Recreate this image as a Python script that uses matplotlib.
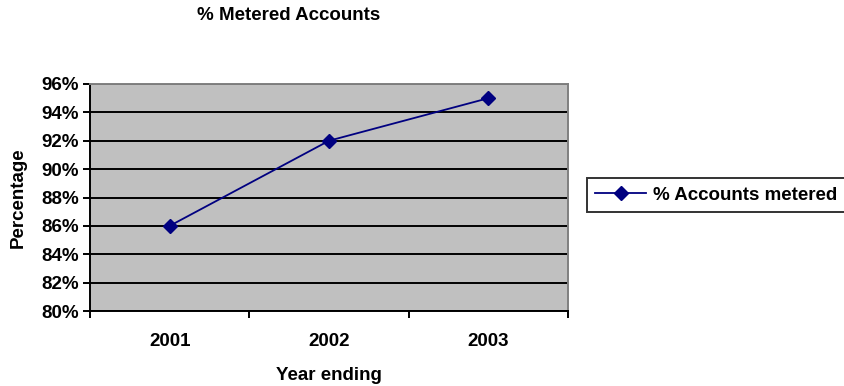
import matplotlib
matplotlib.use("Agg")
import matplotlib.pyplot as plt
from matplotlib.ticker import FixedLocator, FuncFormatter

plt.rcParams.update({
    "font.family": ["Liberation Sans", "DejaVu Sans"],
    "font.weight": "bold",
    "font.size": 13.5,
})

YEARS = ["2001", "2002", "2003"]
PCT_METERED = [86, 92, 95]
SERIES_NAME = "% Accounts metered"

fig = plt.figure(figsize=(8.44, 3.86), dpi=100)
ax = fig.add_axes([90 / 844, 1 - 311 / 386, 478 / 844, 227 / 386])
ax.set_facecolor("#C0C0C0")

x = list(range(len(YEARS)))
line, = ax.plot(x, PCT_METERED, color="#000080", linewidth=1.3,
                marker="D", markersize=7, markerfacecolor="#000080",
                markeredgecolor="#000080", zorder=4)

ax.set_xlim(-0.5, len(YEARS) - 0.5)
ax.set_ylim(80, 96)

# horizontal gridlines
ax.set_yticks(range(80, 97, 2))
ax.yaxis.set_major_formatter(FuncFormatter(lambda v, p: f"{v:.0f}%"))
ax.grid(axis="y", color="black", linewidth=1.4, zorder=1)
ax.set_axisbelow(True)

# category boundaries carry the ticks, labels sit centered
ax.xaxis.set_major_locator(FixedLocator([i - 0.5 for i in range(len(YEARS) + 1)]))
ax.xaxis.set_major_formatter(FuncFormatter(lambda v, p: ""))
ax.xaxis.set_minor_locator(FixedLocator(x))
ax.set_xticklabels(YEARS, minor=True)
ax.tick_params(axis="x", which="minor", length=0, pad=16, labelsize=13.5)
ax.tick_params(axis="x", which="major", direction="out", length=5, width=1.4)
ax.tick_params(axis="y", direction="out", length=5, width=1.4, pad=3, labelsize=13.5)

for side in ("left", "bottom"):
    ax.spines[side].set_color("black")
    ax.spines[side].set_linewidth(1.4)
for side in ("top", "right"):
    ax.spines[side].set_color("#808080")
    ax.spines[side].set_linewidth(1.4)

ax.set_ylabel("Percentage", fontsize=13.5, fontweight="bold", labelpad=10)
ax.set_xlabel("Year ending", fontsize=13.5, fontweight="bold", labelpad=12)

fig.text(289 / 844, 1 - 16 / 386, "% Metered Accounts", ha="center", va="center",
         fontsize=13.5, fontweight="bold")

leg = fig.legend([line], [SERIES_NAME], loc="upper left",
                 bbox_to_anchor=(587 / 844, 1 - 178 / 386),
                 borderaxespad=0,
                 frameon=True, fancybox=False, edgecolor="black",
                 handlelength=2.7, handletextpad=0.35, borderpad=0.45,
                 prop={"weight": "bold", "size": 13.5})
leg.get_frame().set_linewidth(1.4)

fig.savefig("out.png", dpi=100)
